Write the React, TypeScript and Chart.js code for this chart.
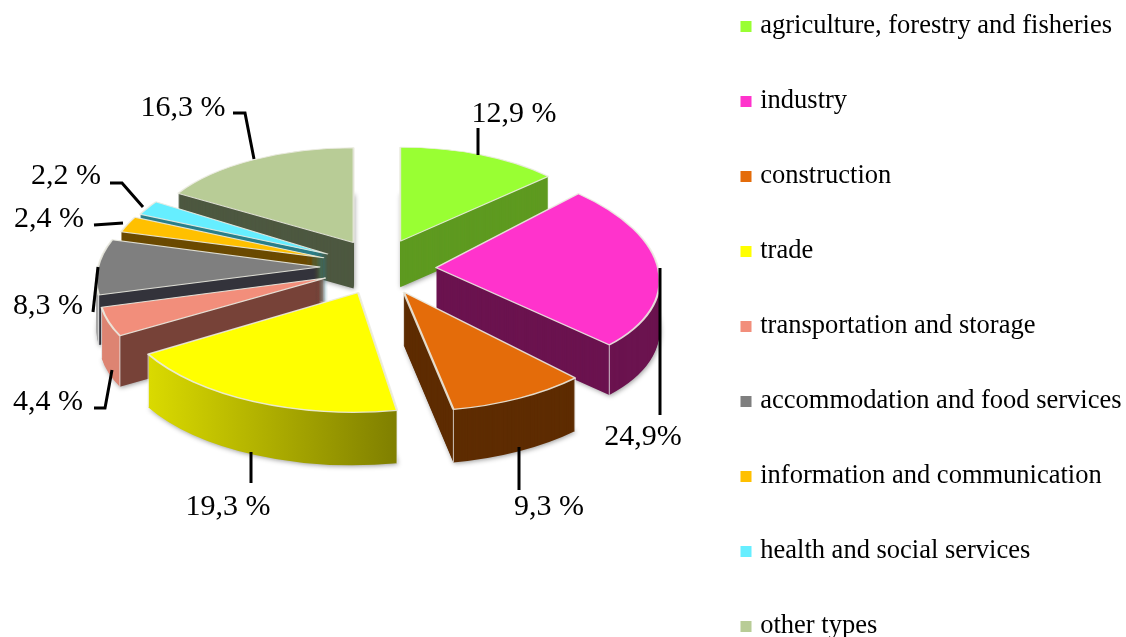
import React, { useEffect, useRef } from "react";
import { Chart, registerables } from "chart.js";

Chart.register(...registerables);

const categories = [
  "agriculture, forestry and fisheries",
  "industry",
  "construction",
  "trade",
  "transportation and storage",
  "accommodation and food services",
  "information and communication",
  "health and social services",
  "other types",
];
const shares = [12.9, 24.9, 9.3, 19.3, 4.4, 8.3, 2.4, 2.2, 16.3];
const shareLabels = ["12,9 %", "24,9%", "9,3 %", "19,3 %", "4,4 %", "8,3 %", "2,4 %", "2,2 %", "16,3 %"];

const topColors = ["#99ff33", "#ff33cc", "#e46c0a", "#ffff00", "#f28e7b", "#7f7f7f", "#ffc000", "#66eeff", "#b8cc96"];
const cutColors = ["#5e9a20", "#6b134f", "#5e2c02", "#7f7f00", "#774238", "#33333b", "#6b4a00", "#2a7f8a", "#4d5840"];
const rimLeftColors = ["#5e9a20", "#6b134f", "#5e2c02", "#dede00", "#dd8472", "#a8a8a8", "#6b4a00", "#2a7f8a", "#4d5840"];
const rimRightColors = ["#5e9a20", "#6b134f", "#5e2c02", "#7f7f00", "#dd8472", "#a8a8a8", "#6b4a00", "#2a7f8a", "#4d5840"];

// Callout layout: leader polyline and label centre for each slice (annotation only).
const calloutPaths = [
  [[478, 128], [478, 155]],
  [[660, 268], [660, 415]],
  [[519, 447], [519, 490]],
  [[251, 452], [251, 483]],
  [[112, 370], [105, 408], [94, 408]],
  [[98, 267], [93, 312]],
  [[123, 223], [94, 225]],
  [[143, 207], [122, 183], [110, 183]],
  [[254, 159], [245, 113], [233, 113]],
];
const labelCentres = [
  [514, 114], [643, 437], [549, 507], [228, 507], [48, 402], [48, 306], [49, 219], [66, 176], [183, 108],
];

// Tilted-view projection of the pie
const CENTRE_X = 380;
const CENTRE_Y = 267;
const EXPLODE_Y = 28;

function fakeOptions(fill: any) {
  return {
    offset: 0, spacing: 0, circular: true, borderAlign: "center", borderWidth: 0,
    backgroundColor: fill, borderColor: fill, borderRadius: 0, borderJoinStyle: "round",
    selfJoin: false, borderDash: [], borderDashOffset: 0,
  };
}

const pie3d = {
  id: "pie3d",
  afterLayout(chart: any) {
    const legend = chart.legend;
    legend.left = 696.5;
    legend.top = -35.25;
    legend.right = 1126;
    legend.bottom = 740;
    legend.width = 429.5;
    legend.height = 775.25;
  },
  beforeDatasetDraw() {
    return false;
  },
  afterDatasetsDraw(chart: any) {
    const ctx = chart.ctx;
    const arcs = chart.getDatasetMeta(0).data;
    const order = arcs
      .map((arc: any, i: number) => ({ arc, i, mid: (arc.startAngle + arc.endAngle) / 2 }))
      .sort((p: any, q: any) => Math.sin(p.mid) - Math.sin(q.mid));

    for (const { arc, i, mid } of order) {
      const ux = Math.cos(mid);
      const uy = Math.sin(mid);
      const R = arc.outerRadius;
      const explodeX = 48 + (ux < 0 ? 12 : 8) * Math.abs(ux);
      const apexX = CENTRE_X + explodeX * ux;
      const apexY = CENTRE_Y + EXPLODE_Y * uy;
      const sx = (222 + (uy > 0 ? 24 * uy * uy : 19 * uy)) / R;
      const sy = (107 + 14 * uy) / R;
      const shear = uy < -0.6 ? 0 : 0.25 * ux * Math.abs(ux);
      const a = sx;
      const c = shear * sy;
      const depth = Math.round(49.5 + 3.5 * uy);

      const corner = (t: number) => ({
        x: apexX + a * R * Math.cos(t) + c * R * Math.sin(t),
        y: apexY + sy * R * Math.sin(t),
      });
      const startCorner = corner(arc.startAngle);
      const endCorner = corner(arc.endAngle);

      const place = (dy: number) => {
        ctx.translate(0, dy);
        ctx.transform(a, 0, c, sy, apexX, apexY);
        ctx.translate(-arc.x, -arc.y);
      };

      // side walls: the rim shades across the slice, the cut face is flat
      let fill: any = cutColors[i];
      if (ux < 0 && uy > -0.1) {
        const x0 = Math.min(startCorner.x, endCorner.x) - 10;
        const x1 = startCorner.x;
        const x2 = x1 + 400;
        const k = 1 / (a * a + c * c);
        const lx = (X: number) => arc.x + (X - apexX) * k * a;
        const ly = (X: number) => arc.y + (X - apexX) * k * c;
        const g = ctx.createLinearGradient(lx(x0), ly(x0), lx(x2), ly(x2));
        const f = (x1 - x0) / (x2 - x0);
        g.addColorStop(0, rimLeftColors[i]);
        g.addColorStop(f, rimRightColors[i]);
        g.addColorStop(f, cutColors[i]);
        g.addColorStop(1, cutColors[i]);
        fill = g;
      }

      const topOptions = arc.options;
      arc.options = fakeOptions(fill);
      for (let d = depth; d >= 1; d--) {
        ctx.save();
        if (d === depth) {
          ctx.shadowColor = "rgba(0,0,0,0.4)";
          ctx.shadowBlur = 5;
          ctx.shadowOffsetX = 1;
          ctx.shadowOffsetY = 1;
        }
        place(d);
        arc.draw(ctx);
        ctx.restore();
      }
      arc.options = topOptions;

      // light vertical edges on the visible rim corners
      ctx.save();
      ctx.strokeStyle = "rgba(235,235,235,0.8)";
      ctx.lineWidth = 1;
      for (const [t, p] of [[arc.startAngle, startCorner], [arc.endAngle, endCorner]] as any) {
        if (Math.sin(t) > 0.2) {
          ctx.beginPath();
          ctx.moveTo(p.x, p.y);
          ctx.lineTo(p.x, p.y + depth);
          ctx.stroke();
        }
      }
      ctx.restore();

      // top face, drawn by the library's own arc element
      ctx.save();
      place(0);
      arc.draw(ctx);
      ctx.restore();
    }
  },
  afterDraw(chart: any) {
    const ctx = chart.ctx;
    ctx.save();
    ctx.strokeStyle = "#000000";
    ctx.lineWidth = 3;
    ctx.lineJoin = "miter";
    for (const path of calloutPaths) {
      ctx.beginPath();
      path.forEach(([x, y], j) => (j === 0 ? ctx.moveTo(x, y) : ctx.lineTo(x, y)));
      ctx.stroke();
    }
    ctx.fillStyle = "#000000";
    ctx.font = '30px "Liberation Serif"';
    ctx.textAlign = "center";
    ctx.textBaseline = "middle";
    shareLabels.forEach((text, i) => ctx.fillText(text, labelCentres[i][0], labelCentres[i][1]));
    ctx.restore();
  },
};

export default function App() {
  const ref = useRef<HTMLCanvasElement>(null);
  useEffect(() => {
    const chart = new Chart(ref.current as any, {
      type: "pie",
      data: {
        labels: categories,
        datasets: [
          {
            data: shares,
            backgroundColor: topColors,
            borderColor: "rgba(235,235,225,0.9)",
            borderWidth: 2,
          },
        ],
      },
      options: {
        animation: false,
        responsive: false,
        radius: 200,
        plugins: {
          tooltip: { enabled: false },
          legend: {
            display: true,
            position: "right",
            align: "start",
            labels: {
              color: "#000000",
              boxWidth: 2,
              boxHeight: 2,
              padding: 48.5,
              font: { family: '"Liberation Serif"', size: 26.5 },
              generateLabels(c: any) {
                return Chart.overrides.pie.plugins.legend.labels
                  .generateLabels(c)
                  .map((item: any) => ({ ...item, strokeStyle: item.fillStyle, lineWidth: 9 }));
              },
            },
          },
        },
      },
      plugins: [pie3d],
    } as any);
    return () => chart.destroy();
  }, []);
  return (
    <div style={{ position: "fixed", left: 0, top: 0, width: 1126, height: 637, overflow: "hidden", background: "#fff" }}>
      <canvas ref={ref} width={1126} height={740} style={{ display: "block" }} />
    </div>
  );
}
